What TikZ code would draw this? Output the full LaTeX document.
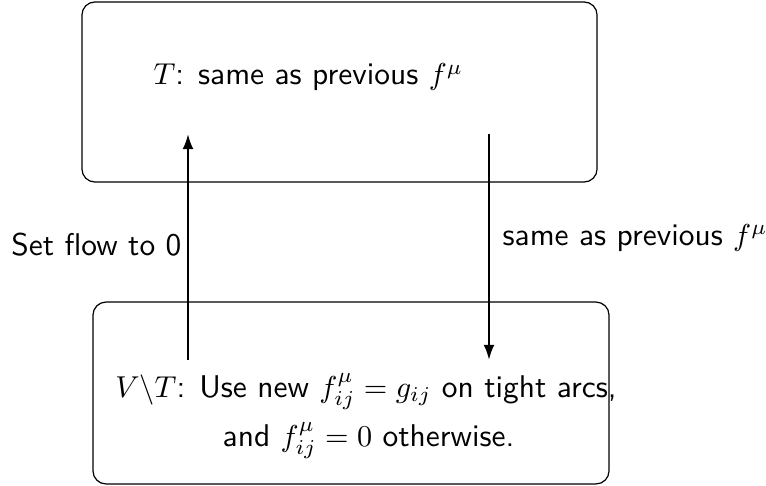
\documentclass[tikz,border=0pt]{standalone}
\usetikzlibrary{arrows.meta}
\begin{document}
\begin{tikzpicture}[x=0.331pt,y=-0.331pt,
  font=\sffamily\fontsize{10.4}{12.5}\selectfont,
  box/.style={draw, rounded corners=4.3pt, line width=0.4pt, inner sep=0pt},
  txt/.style={inner sep=0pt},
  flow/.style={-{Latex[length=5pt,width=3.6pt]}, line width=0.75pt}]
\useasboundingbox (0,0) rectangle (766,485);
% boxes
\node[box, minimum width=170.5pt, minimum height=59.6pt] (top) at (339.5,92) {};
\node[box, minimum width=170.8pt, minimum height=60.2pt] (bot) at (351,393) {};
% texts
\node[txt, anchor=base west] (ttext) at (153,85) {$T$: same as previous $f^\mu$};
\node[txt, anchor=base] (btext1) at (366,397) {$V\backslash T$: Use new $f^\mu_{ij}=g_{ij}$ on tight arcs,};
\node[txt, anchor=base] (btext2) at (368.5,446) {and $f^\mu_{ij}=0$ otherwise.};
% connector end points
\coordinate (upS) at (188,360);
\coordinate (upE) at (188,134);
\coordinate (dnS) at (489,134);
\coordinate (dnE) at (489,360);
\draw[flow] (upS) -- (upE);
\draw[flow] (dnS) -- (dnE);
\node[txt, anchor=base east] (lup) at (182,255) {Set flow to 0};
\node[txt, anchor=base west] (ldn) at (502,245) {same as previous $f^\mu$};
\end{tikzpicture}
\end{document}
